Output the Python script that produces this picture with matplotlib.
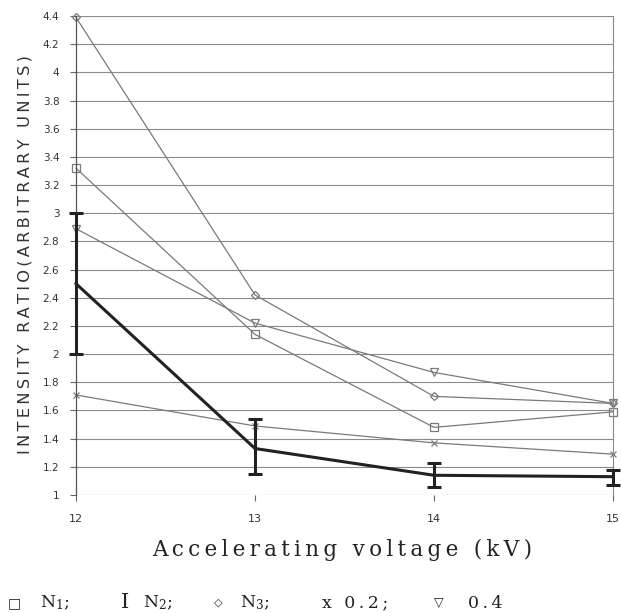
import matplotlib
matplotlib.use("Agg")
import matplotlib.pyplot as plt

plt.rcParams["mathtext.fontset"] = "dejavuserif"

# data
voltage = [12, 13, 14, 15]
n1 = [3.32, 2.14, 1.48, 1.59]
n2 = [2.50, 1.33, 1.14, 1.13]
n2_low = [2.00, 1.15, 1.06, 1.07]
n2_high = [3.00, 1.54, 1.23, 1.18]
n3 = [4.39, 2.42, 1.70, 1.65]
x02 = [1.71, 1.49, 1.37, 1.29]
v04 = [2.89, 2.22, 1.87, 1.65]
yticks = [1 + 0.2 * i for i in range(18)]
ytick_labels = ["1", "1.2", "1.4", "1.6", "1.8", "2", "2.2", "2.4", "2.6", "2.8",
                "3", "3.2", "3.4", "3.6", "3.8", "4", "4.2", "4.4"]


def spaced(s, sep="\u2009"):
    # crude letter spacing
    return sep.join(s)


fig = plt.figure(figsize=(6.21, 6.13), dpi=100)
ax = fig.add_axes([76 / 621, 1 - 495 / 613, (613 - 76) / 621, (495 - 16) / 613])

gray = "#7a7a7a"
ax.set_xlim(12, 15)
ax.set_ylim(1, 4.4)
ax.set_yticks(yticks)
ax.set_yticklabels(ytick_labels)
ax.set_xticks(voltage)
ax.set_xticklabels([str(v) for v in voltage])
ax.grid(axis="y", color="#8a8a8a", linewidth=0.8)
ax.set_axisbelow(True)
for side in ["top", "bottom"]:
    ax.spines[side].set_visible(False)
ax.spines["left"].set_color("#555555")
ax.spines["right"].set_color("#888888")
ax.spines["left"].set_linewidth(0.9)
ax.spines["right"].set_linewidth(0.8)
ax.tick_params(axis="y", length=4, width=0.8, color="#666666", labelsize=7.5,
               labelcolor="#333333", pad=8)
ax.tick_params(axis="x", length=4, width=0.8, color="#666666", labelsize=8,
               labelcolor="#333333", pad=10)

mk = dict(color=gray, linewidth=0.9, markersize=5.5, markerfacecolor="none",
          markeredgecolor=gray, markeredgewidth=0.9, clip_on=False)
ax.plot(voltage, n1, marker="s", **mk)
ax.plot(voltage, n3, marker="D", **dict(mk, markersize=4.5))
ax.plot(voltage, x02, marker="x", **dict(mk, markersize=5))
ax.plot(voltage, v04, marker="v", **mk)

err = [[m - lo for m, lo in zip(n2, n2_low)], [hi - m for m, hi in zip(n2, n2_high)]]
ax.errorbar(voltage, n2, yerr=err, color="#222222", linewidth=2.2,
            elinewidth=2.2, capsize=5, capthick=2.2, clip_on=False, zorder=5)

fig.text(342 / 621, 1 - 550 / 613, spaced("Accelerating voltage (kV)"),
         family="DejaVu Serif", fontsize=15.5, color="#222222", ha="center", va="center")

fig.text(25 / 621, 1 - 255 / 613, spaced("INTENSITY RATIO(ARBITRARY UNITS)"),
         rotation=90, ha="center", va="center", fontsize=11.7, color="#333333",
         family="DejaVu Sans")

# legend line below the plot
ly = 1 - 603 / 613
leg = dict(fontsize=12.5, color="#222222", family="DejaVu Serif", va="center")
fig.text(8 / 621, ly, "\u25a1", **dict(leg, fontsize=10, family="DejaVu Sans"))
fig.text(40 / 621, ly, r"N$_1$;", **leg)
fig.text(121 / 621, ly, "I", **dict(leg, fontsize=15))
fig.text(143 / 621, ly, r"N$_2$;", **leg)
fig.text(214 / 621, ly, "\u25c7", **dict(leg, fontsize=8, family="DejaVu Sans"))
fig.text(240 / 621, ly, r"N$_3$;", **leg)
fig.text(322 / 621, ly, spaced("x 0.2;"), **leg)
fig.text(434 / 621, ly, "\u25bd", **dict(leg, fontsize=9, family="DejaVu Sans"))
fig.text(468 / 621, ly, spaced("0.4"), **leg)

fig.savefig("out.png", dpi=100)
